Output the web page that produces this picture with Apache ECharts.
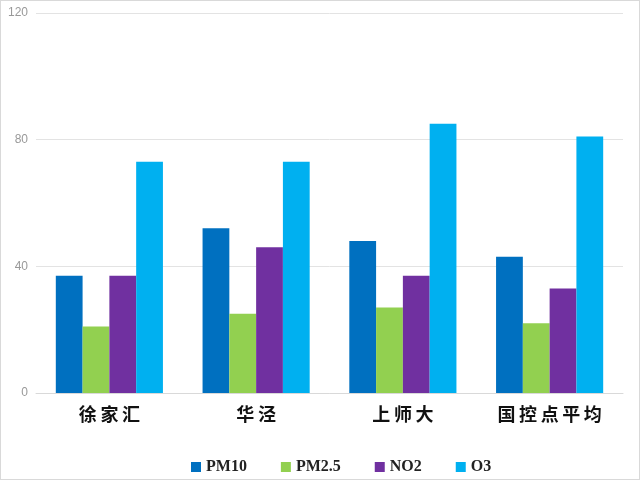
<!DOCTYPE html>
<html lang="zh">
<head>
<meta charset="UTF-8">
<style>
  html, body { margin: 0; height: 100%; background: #fff; }
  #chart { width: 638px; height: 478px; border: 1px solid #d9d9d9; }
</style>
</head>
<body>
<div id="chart"></div>
<script src="https://cdn.jsdelivr.net/npm/echarts@6/dist/echarts.min.js"></script>
<script>
var sites = ['徐家汇', '华泾', '上师大', '国控点平均'];
var pm10 = [37, 52, 48, 43];
var pm25 = [21, 25, 27, 22];
var no2 = [37, 46, 37, 33];
var o3 = [73, 73, 85, 81];
var yTicks = [0, 40, 80, 120];

var myChart = echarts.init(document.getElementById('chart'));

function bar(name, data, color) {
    return {
        name: name,
        type: 'bar',
        data: data,
        barGap: '0%',
        barCategoryGap: '27%',
        itemStyle: { color: color }
    };
}

myChart.setOption({
    animation: false,
    grid: { left: 35, right: 16, top: 12, bottom: 86 },
    legend: {
        top: 453,
        left: 185,
        itemWidth: 10,
        itemHeight: 10,
        itemGap: 34,
        icon: 'rect',
        textStyle: {
            fontFamily: 'Liberation Serif',
            fontWeight: 'bold',
            fontSize: 16,
            color: '#222'
        }
    },
    xAxis: {
        type: 'category',
        data: sites,
        axisLine: { lineStyle: { color: '#d9d9d9', width: 1 } },
        axisTick: { show: false },
        axisLabel: {
            margin: 12,
            fontSize: 18,
            fontWeight: 'bold',
            color: '#111',
            fontFamily: 'Noto Sans CJK SC',
            formatter: function (v) { return v.split('').join('\u2009'); }
        }
    },
    yAxis: {
        type: 'value',
        min: yTicks[0],
        max: yTicks[yTicks.length - 1],
        interval: 40,
        axisLine: { show: false },
        axisTick: { show: false },
        splitLine: { lineStyle: { color: '#e3e3e3' } },
        axisLabel: { color: '#999', fontSize: 12, margin: 8 }
    },
    series: [
        bar('PM10', pm10, '#0070C0'),
        bar('PM2.5', pm25, '#92D050'),
        bar('NO2', no2, '#7030A0'),
        bar('O3', o3, '#00B0F0')
    ]
});
</script>
</body>
</html>
